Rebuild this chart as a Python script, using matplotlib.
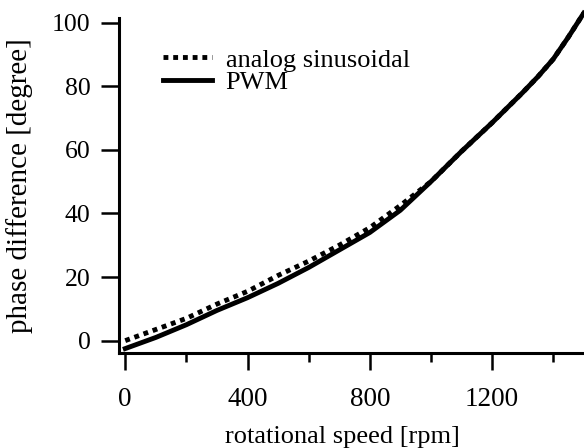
import numpy as np
import matplotlib.pyplot as plt
from matplotlib.ticker import MultipleLocator

plt.rcParams['font.family'] = ['Liberation Serif', 'DejaVu Serif']

# rotational speed [rpm]
rpm = [0, 100, 200, 300, 400, 500, 600, 700, 800, 900, 1000, 1100, 1200, 1300, 1350, 1400, 1450, 1500]
# phase difference [degree]
analog = [0, 3.5, 7, 11.5, 15.5, 20.5, 25, 30, 35.5, 42.5, 50, 59.5, 68.5, 78, 83, 88.5, 95.5, 103]
pwm = [-2.5, 1, 5, 9.5, 13.5, 18, 23, 28.5, 34, 41, 50, 59.5, 68.5, 78, 83, 88.5, 95.5, 103]

fig = plt.figure(figsize=(5.84, 4.48), dpi=100)
ax = fig.add_axes([0.204, 0.212, 0.796, 0.748])

ax.plot(rpm, analog, color='black', lw=3.5, linestyle=(0, (1.0, 1.0)),
        label='analog sinusoidal', clip_on=False, zorder=3)
ax.plot(rpm, pwm, color='black', lw=3.5, label='PWM', clip_on=False, zorder=2)

ax.set_xlim(-20, 1501)
ax.set_ylim(-3.9, 101.5)
ax.set_xticks([0, 400, 800, 1200])
ax.xaxis.set_minor_locator(MultipleLocator(200))
ax.set_yticks([0, 20, 40, 60, 80, 100])

for s in ['top', 'right']:
    ax.spines[s].set_visible(False)
for s in ['left', 'bottom']:
    ax.spines[s].set_linewidth(2.2)

ax.tick_params(axis='x', which='major', direction='out', length=12.5, width=1.8, labelsize=19.5, pad=12)
ax.tick_params(axis='x', which='minor', direction='out', length=6.5, width=1.8)
ax.tick_params(axis='y', direction='out', length=13, width=1.8, labelsize=18.5, pad=7.5)

ax.set_xlabel('rotational speed [rpm]', fontsize=19, labelpad=10, x=0.48)
ax.set_ylabel('phase difference [degree]', fontsize=21, labelpad=14)

ax.legend(loc='upper left', bbox_to_anchor=(0.095, 0.91), frameon=False, fontsize=19,
          handlelength=1.86, handletextpad=0.5, labelspacing=-0.03, borderpad=0,
          borderaxespad=0)

fig.savefig('out.png', dpi=100)
